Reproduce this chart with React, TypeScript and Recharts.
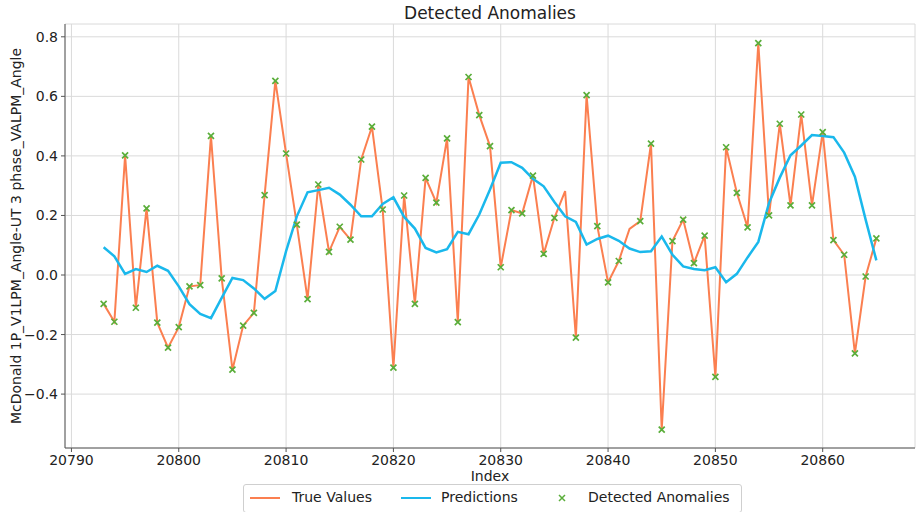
import React from 'react';
import {
  ComposedChart, Line, Scatter, XAxis, YAxis, CartesianGrid,
} from 'recharts';

// index values along the x axis
const indexes = [
  20793, 20794, 20795, 20796, 20797, 20798, 20799, 20800, 20801, 20802,
  20803, 20804, 20805, 20806, 20807, 20808, 20809, 20810, 20811, 20812,
  20813, 20814, 20815, 20816, 20817, 20818, 20819, 20820, 20821, 20822,
  20823, 20824, 20825, 20826, 20827, 20828, 20829, 20830, 20831, 20832,
  20833, 20834, 20835, 20836, 20837, 20838, 20839, 20840, 20841, 20842,
  20843, 20844, 20845, 20846, 20847, 20848, 20849, 20850, 20851, 20852,
  20853, 20854, 20855, 20856, 20857, 20858, 20859, 20860, 20861, 20862,
  20863, 20864, 20865,
];

const trueValues = [
  -0.097, -0.157, 0.402, -0.110, 0.224, -0.160, -0.244, -0.175, -0.038, -0.034,
  0.467, -0.011, -0.318, -0.170, -0.127, 0.268, 0.652, 0.408, 0.169, -0.081,
  0.304, 0.078, 0.162, 0.119, 0.388, 0.498, 0.220, -0.311, 0.267, -0.097,
  0.326, 0.243, 0.459, -0.158, 0.665, 0.537, 0.433, 0.026, 0.218, 0.207,
  0.334, 0.071, 0.192, 0.282, -0.210, 0.604, 0.164, -0.025, 0.047, 0.155,
  0.181, 0.441, -0.519, 0.114, 0.186, 0.040, 0.132, -0.342, 0.429, 0.276,
  0.160, 0.779, 0.200, 0.508, 0.234, 0.539, 0.234, 0.480, 0.117, 0.068,
  -0.263, -0.005, 0.123,
];

const predictions = [
  0.093, 0.063, 0.004, 0.020, 0.010, 0.031, 0.014, -0.038, -0.098, -0.131,
  -0.145, -0.077, -0.010, -0.017, -0.045, -0.080, -0.054, 0.080, 0.197, 0.278,
  0.285, 0.293, 0.270, 0.236, 0.197, 0.197, 0.239, 0.261, 0.195, 0.156,
  0.091, 0.076, 0.087, 0.145, 0.137, 0.203, 0.287, 0.377, 0.379, 0.360,
  0.323, 0.298, 0.245, 0.197, 0.178, 0.102, 0.121, 0.132, 0.115, 0.089,
  0.077, 0.080, 0.129, 0.068, 0.029, 0.020, 0.016, 0.026, -0.024, 0.004,
  0.059, 0.111, 0.242, 0.327, 0.402, 0.435, 0.470, 0.467, 0.463, 0.411,
  0.330, 0.186, 0.049,
];

// points that were NOT flagged as anomalies
const notFlagged = [20836, 20842];

const xTicks = [20790, 20800, 20810, 20820, 20830, 20840, 20850, 20860];
const yTicks = [-0.4, -0.2, 0, 0.2, 0.4, 0.6, 0.8];

const ORANGE = '#fb7f50';
const BLUE = '#1ab8ec';
const GREEN = '#5aae3a';
const FONT = '"DejaVu Sans", sans-serif';

const rows = indexes.map((index, i) => ({
  index,
  actual: trueValues[i],
  pred: predictions[i],
}));

const anomalyRows = rows
  .filter((r) => !notFlagged.includes(r.index))
  .map((r) => ({ index: r.index, anom: r.actual }));

const fmtY = (v: number) => {
  const s = Math.abs(v).toFixed(1);
  return v < -1e-9 ? `\u2212${s}` : s;
};

const XMark = (props: any) => {
  const { cx, cy } = props;
  if (cx == null || cy == null) return null;
  const r = 3;
  return (
    <path
      d={`M${cx - r},${cy - r}L${cx + r},${cy + r}M${cx - r},${cy + r}L${cx + r},${cy - r}`}
      stroke={GREEN}
      strokeWidth={1.7}
      fill="none"
    />
  );
};

const YLabel = () => {
  const x = 16;
  const y = 24 + 424 / 2;
  return (
    <text
      x={x}
      y={y}
      transform={`rotate(-90, ${x}, ${y})`}
      textAnchor="middle"
      dominantBaseline="central"
      fontSize={14}
      fill="#222"
      fontFamily={FONT}
    >
      McDonald 1P_V1LPM_Angle-UT 3 phase_VALPM_Angle
    </text>
  );
};

const App: React.FC = () => {
  const tickStyle = { fontSize: 14, fill: '#222', fontFamily: FONT };

  return (
    <div
      style={{
        position: 'absolute', left: 0, top: 0, width: 917, height: 512,
        background: '#fff', fontFamily: FONT, overflow: 'hidden',
      }}
    >
      <div
        style={{
          position: 'absolute', left: 65, top: 3, width: 850, textAlign: 'center',
          fontSize: 17, color: '#222',
        }}
      >
        Detected Anomalies
      </div>

      <ComposedChart
        width={917}
        height={512}
        data={rows}
        margin={{ top: 24, right: 2, bottom: 0, left: 0 }}
      >
        <CartesianGrid stroke="#dadada" strokeWidth={1} />
        <XAxis
          dataKey="index"
          type="number"
          domain={[20789.4, 20868.6]}
          ticks={xTicks}
          allowDataOverflow
          height={64}
          tickSize={4}
          tickMargin={3}
          tick={tickStyle}
          stroke="#555"
          label={{ value: 'Index', position: 'insideBottom', offset: 31, fontSize: 14, fill: '#222', fontFamily: FONT }}
        />
        <XAxis
          xAxisId="top"
          dataKey="index"
          type="number"
          orientation="top"
          domain={[20789.4, 20868.6]}
          allowDataOverflow
          height={0}
          tick={false}
          tickLine={false}
          stroke="#555"
        />
        <YAxis
          type="number"
          domain={[-0.581, 0.843]}
          ticks={yTicks}
          allowDataOverflow
          width={65}
          tickSize={4}
          tickMargin={3}
          tick={tickStyle}
          tickFormatter={fmtY}
          stroke="#555"
          label={<YLabel />}
        />
        <YAxis
          yAxisId="right"
          orientation="right"
          type="number"
          domain={[-0.581, 0.843]}
          allowDataOverflow
          width={0}
          tick={false}
          tickLine={false}
          stroke="#555"
        />
        <Line
          dataKey="actual"
          type="linear"
          stroke={ORANGE}
          strokeWidth={2}
          dot={false}
          isAnimationActive={false}
        />
        <Line
          dataKey="pred"
          type="linear"
          stroke={BLUE}
          strokeWidth={2.5}
          dot={false}
          isAnimationActive={false}
        />
        <Scatter
          data={anomalyRows}
          dataKey="anom"
          shape={<XMark />}
          isAnimationActive={false}
        />
      </ComposedChart>

      {/* legend */}
      <div
        style={{
          position: 'absolute', left: 243, top: 484, width: 497, height: 27,
          border: '1px solid #cfcfcf', borderRadius: 3, background: '#fff',
          fontSize: 14, color: '#222',
        }}
      >
        <div style={{ position: 'absolute', left: 6, top: 12, width: 30, height: 2, background: ORANGE }} />
        <div style={{ position: 'absolute', left: 48, top: 4 }}>True Values</div>
        <div style={{ position: 'absolute', left: 157, top: 12, width: 30, height: 2, background: BLUE }} />
        <div style={{ position: 'absolute', left: 197, top: 4 }}>Predictions</div>
        <svg style={{ position: 'absolute', left: 314, top: 9 }} width={8} height={8}>
          <path d="M1,1L7,7M1,7L7,1" stroke={GREEN} strokeWidth={1.5} />
        </svg>
        <div style={{ position: 'absolute', left: 344, top: 4 }}>Detected Anomalies</div>
      </div>
    </div>
  );
};

export default App;
